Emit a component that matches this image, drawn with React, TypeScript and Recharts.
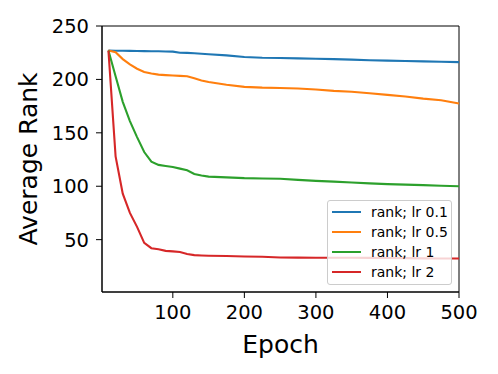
import { Legend, Line, LineChart, ReferenceArea, XAxis, YAxis } from "recharts";

const EPOCHS = [
  10, 20, 30, 40, 50, 60, 70, 80, 90, 100, 110, 120, 130, 140, 150, 175, 200, 225, 250, 275, 300, 325, 350,
  375, 400, 425, 450, 475, 500,
];

const LR_01 = [
  227, 226.9, 226.8, 226.7, 226.6, 226.5, 226.4, 226.3, 226.2, 226, 225, 224.8, 224.5, 224, 223.5, 222.5, 221,
  220.3, 220, 219.7, 219.3, 219, 218.5, 218, 217.6, 217.2, 216.9, 216.5, 216.2,
];
const LR_05 = [
  227, 225.5, 219, 214, 210, 207, 205.5, 204.5, 204, 203.6, 203.3, 203, 201, 199, 197.5, 195, 193, 192.3, 192,
  191.5, 190.5, 189.3, 188.5, 187, 185.5, 184, 182, 180.5, 177.5,
];
const LR_1 = [
  227, 203, 179, 161, 146, 132, 123, 120, 119, 118, 116.5, 115, 111.5, 110, 109, 108.3, 107.6, 107.3, 107, 106,
  105, 104.3, 103.5, 102.7, 102, 101.5, 101, 100.5, 100,
];
const LR_2 = [
  227, 128, 93, 75, 62, 47, 42, 41, 39.5, 39, 38.5, 36.5, 35.5, 35.2, 35, 34.7, 34.3, 34, 33.3, 33.2, 33, 33, 33,
  32.9, 32.8, 32.7, 32.5, 32.4, 32.3,
];

const X_TICKS = [100, 200, 300, 400, 500];
const Y_TICKS = [50, 100, 150, 200, 250];

const SERIES = [
  { key: "lr01", name: "rank; lr 0.1", color: "#1f77b4", values: LR_01 },
  { key: "lr05", name: "rank; lr 0.5", color: "#ff7f0e", values: LR_05 },
  { key: "lr1", name: "rank; lr 1", color: "#2ca02c", values: LR_1 },
  { key: "lr2", name: "rank; lr 2", color: "#d62728", values: LR_2 },
];

const data = EPOCHS.map((epoch, i) => {
  const row: Record<string, number> = { epoch };
  SERIES.forEach((s) => {
    row[s.key] = s.values[i];
  });
  return row;
});

const FONT = "DejaVu Sans, sans-serif";
const tickStyle = { fill: "#000", fontSize: 19.5, fontFamily: FONT };

function RankLegend() {
  return (
    <div
      style={{
        width: 125,
        height: 85,
        boxSizing: "border-box",
        background: "rgba(255,255,255,0.8)",
        border: "1px solid #cccccc",
        borderRadius: 3,
        padding: "1px 0 0 4px",
        fontFamily: FONT,
        fontSize: 14,
        color: "#000",
      }}
    >
      {SERIES.map((s) => (
        <div key={s.key} style={{ display: "flex", alignItems: "center", height: 20, whiteSpace: "nowrap" }}>
          <span style={{ display: "inline-block", width: 29, height: 2, background: s.color, marginRight: 10 }} />
          <span>{s.name}</span>
        </div>
      ))}
    </div>
  );
}

export default function App() {
  return (
    <div style={{ position: "absolute", left: 0, top: 0, background: "#fff" }}>
      <LineChart width={498} height={374} data={data} margin={{ top: 26, right: 39, bottom: 0, left: 0 }}>
        <XAxis
          dataKey="epoch"
          type="number"
          domain={[1, 500]}
          ticks={X_TICKS}
          height={82}
          stroke="#000"
          tickSize={6}
          tickMargin={7}
          tick={tickStyle}
          label={{ value: "Epoch", position: "insideBottom", offset: 21, fill: "#000", fontSize: 25, fontFamily: FONT }}
        />
        <YAxis
          type="number"
          domain={[1, 250]}
          ticks={Y_TICKS}
          width={102}
          stroke="#000"
          tickSize={6}
          tickMargin={7}
          tick={tickStyle}
          label={{
            value: "Average Rank",
            angle: -90,
            position: "center",
            dx: -23,
            fill: "#000",
            fontSize: 25,
            fontFamily: FONT,
          }}
        />
        <ReferenceArea x1={1} x2={500} y1={1} y2={250} fill="none" stroke="#000" strokeWidth={1} ifOverflow="visible" />
        {SERIES.map((s) => (
          <Line
            key={s.key}
            dataKey={s.key}
            name={s.name}
            stroke={s.color}
            strokeWidth={2.1}
            dot={false}
            isAnimationActive={false}
          />
        ))}
        <Legend
          layout="vertical"
          align="center"
          verticalAlign="middle"
          wrapperStyle={{ left: 327, top: 200, width: 125 }}
          content={() => <RankLegend />}
        />
      </LineChart>
    </div>
  );
}
